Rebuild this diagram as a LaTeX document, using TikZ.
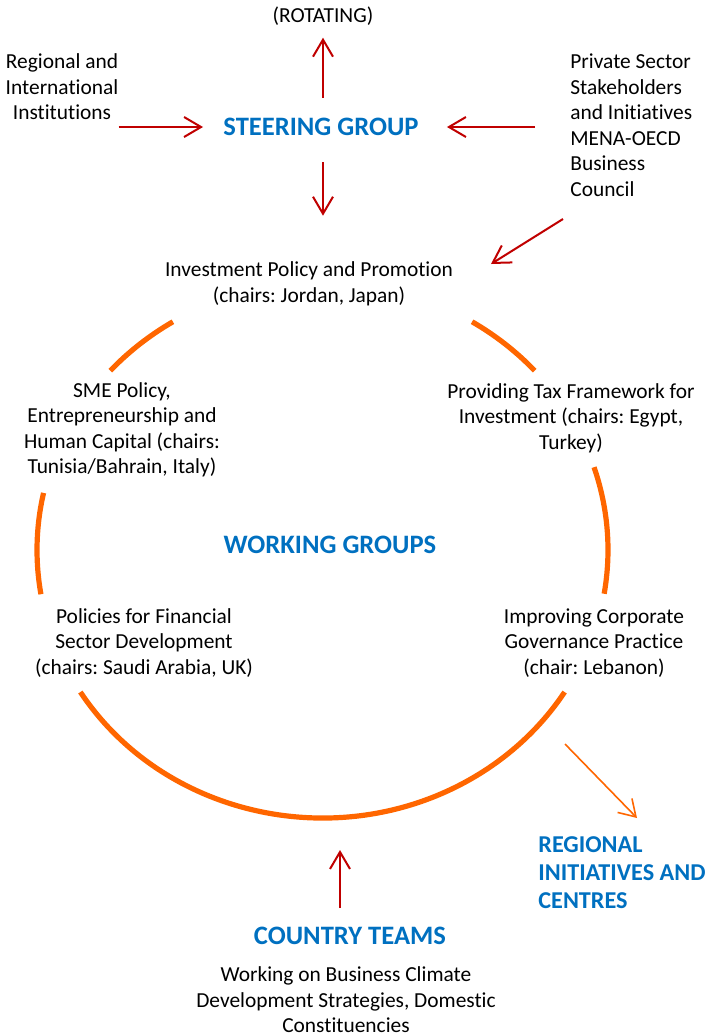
\documentclass[tikz,border=0pt]{standalone}
\usepackage{fontspec}
\setmainfont{Carlito}[Ligatures=NoCommon]
\usetikzlibrary{arrows.meta}

\definecolor{oecdblue}{HTML}{0070C0}
\definecolor{ringorange}{HTML}{FF6600}
\definecolor{arrowred}{HTML}{C00000}

\tikzset{
  body/.style={font=\fontsize{10.7}{12.75}\selectfont, align=center, inner sep=0pt},
  head/.style={font=\fontsize{13.3}{15}\selectfont\bfseries, text=oecdblue, inner sep=0pt},
  regionhead/.style={font=\fontsize{12.1}{14}\selectfont\bfseries, text=oecdblue, inner sep=0pt},
  redarrow/.style={draw=arrowred, line width=1pt, -{Straight Barb[length=8.5pt,width=10pt]}},
  orangearrow/.style={draw=ringorange, line width=0.8pt, -{Straight Barb[length=8pt,width=10pt]}},
  ring/.style={draw=ringorange, line width=2.6pt},
}

\begin{document}
\frenchspacing
\begin{tikzpicture}[x=0.5pt,y=-0.5pt]
\useasboundingbox (0,0) rectangle (711,1035);

% Steering group and partners
\node[head] (steer) at (321,127) {STEERING GROUP};
\node[body] (rot) at (323,16) {(ROTATING)};
\node[body] (inst) at (62,87) {Regional and\\International\\Institutions};
\node[body, align=left, anchor=west] (priv) at (570,125) {Private Sector\\Stakeholders\\and Initiatives\\MENA-OECD\\Business\\Council};
\node[body] (invest) at (309,284) {Investment Policy and Promotion\\(chairs: Jordan, Japan)};

% Arrows round the steering group
\draw[redarrow, shorten <=10pt, shorten >=6pt] (steer.north -| rot.south) -- (rot.south);
\draw[redarrow, shorten <=0pt, shorten >=10pt] (inst.east |- steer.west) -- (steer.west);
\draw[redarrow, shorten <=17.5pt, shorten >=14pt] (priv.west |- steer.east) -- (steer.east);
\draw[redarrow, shorten <=13pt, shorten >=23pt] (steer.south -| rot.south) -- (rot.south |- invest.north);
\coordinate (bizout) at (563,219);
\coordinate (investin) at (491,264);
\draw[redarrow] (bizout) -- (investin);

% Working groups
\node[head] (wg) at (330,545) {WORKING GROUPS};
\node[body] (sme) at (122,430) {SME Policy,\\Entrepreneurship and\\Human Capital (chairs:\\Tunisia/Bahrain, Italy)};
\node[body] (tax) at (571,418) {Providing Tax Framework for\\Investment (chairs: Egypt,\\Turkey)};
\node[body] (fin) at (144,643) {Policies for Financial\\Sector Development\\(chairs: Saudi Arabia, UK)};
\node[body] (gov) at (594,643) {Improving Corporate\\Governance Practice\\(chair: Lebanon)};

% Ring, broken where the groups sit
\coordinate (ringc) at (322.5,550);
\draw[ring] (ringc) ++(-121.6:285.5 and 268) arc[start angle=-121.6, end angle=-138, x radius=285.5, y radius=268];
\draw[ring] (ringc) ++(-167.7:285.5 and 268) arc[start angle=-167.7, end angle=-189.5, x radius=285.5, y radius=268];
\draw[ring] (ringc) ++(148:285.5 and 268) arc[start angle=148, end angle=32, x radius=285.5, y radius=268];
\draw[ring] (ringc) ++(-18:285.5 and 268) arc[start angle=-18, end angle=9.4, x radius=285.5, y radius=268];
\draw[ring] (ringc) ++(-58.4:285.5 and 268) arc[start angle=-58.4, end angle=-42, x radius=285.5, y radius=268];

% Regional initiatives
\node[regionhead, align=left, anchor=west] (reg) at (538,873) {REGIONAL\\INITIATIVES AND\\CENTRES};
\coordinate (ringout) at (565,744);
\coordinate (regin) at (637,818);
\draw[orangearrow] (ringout) -- (regin);

% Country teams
\node[head] (ctry) at (350,936) {COUNTRY TEAMS};
\node[body] (work) at (346,1000) {Working on Business Climate\\Development Strategies, Domestic\\Constituencies};
\coordinate (ctryout) at (340,908);
\coordinate (ringin) at (340,850);
\draw[redarrow] (ctryout) -- (ringin);
\end{tikzpicture}
\end{document}
